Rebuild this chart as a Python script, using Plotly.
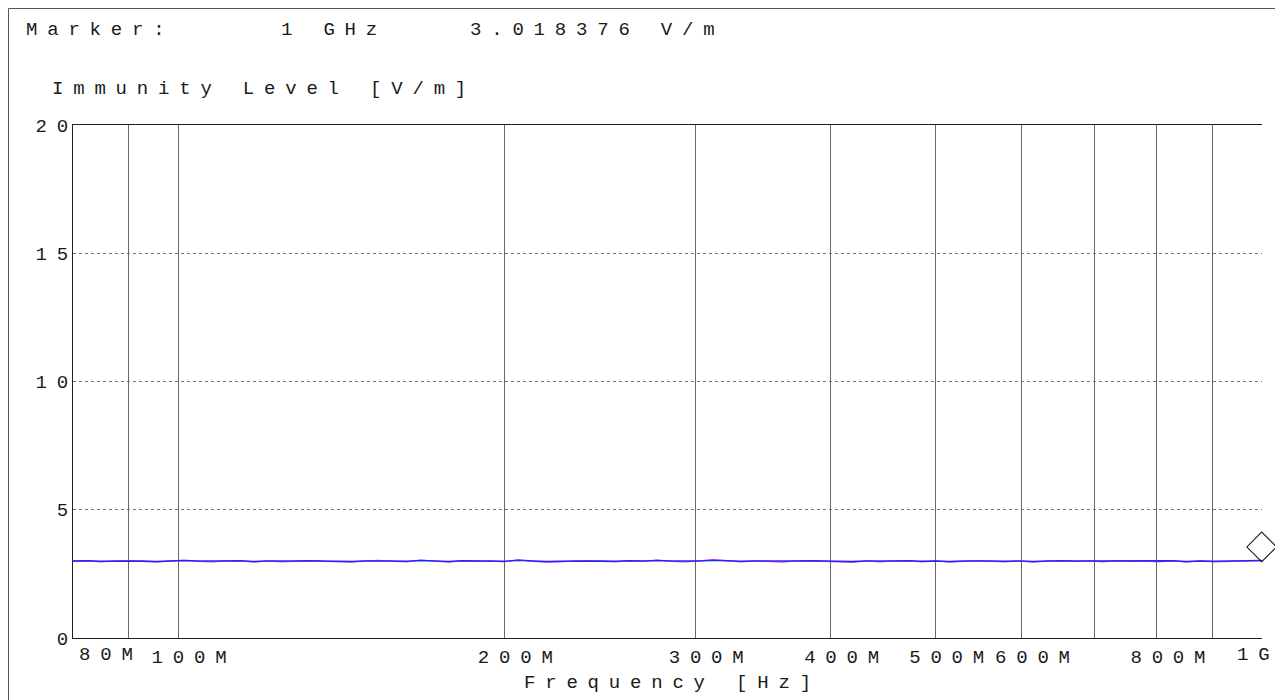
import math
import plotly.graph_objects as go

# ---------------- data ----------------
freq_mhz = [
    80.0, 82.4, 84.9, 87.4, 90.0, 92.7, 95.5, 98.4, 101.3, 104.4,
    107.5, 110.7, 114.0, 117.5, 121.0, 124.6, 128.4, 132.2, 136.2, 140.3,
    144.5, 148.8, 153.3, 157.9, 162.6, 167.5, 172.5, 177.7, 183.0, 188.5,
    194.2, 200.0, 206.0, 212.2, 218.6, 225.1, 231.9, 238.8, 246.0, 253.4,
    261.0, 268.8, 276.8, 285.1, 293.7, 302.5, 311.6, 320.9, 330.5, 340.5,
    350.7, 361.2, 372.0, 383.2, 394.7, 406.5, 418.7, 431.3, 444.2, 457.5,
    471.3, 485.4, 500.0, 515.0, 530.4, 546.3, 562.7, 579.6, 597.0, 614.9,
    633.4, 652.4, 671.9, 692.1, 712.8, 734.2, 756.2, 778.9, 802.3, 826.3,
    851.1, 876.7, 903.0, 930.1, 958.0, 986.7, 1000.0,
]
level_blue = [
    3.00, 3.01, 2.99, 3.00, 3.01, 3.00, 2.98, 3.00, 3.02, 3.00,
    2.99, 3.00, 3.01, 2.98, 3.00, 2.99, 3.00, 3.01, 3.00, 2.99,
    2.98, 3.00, 3.01, 3.00, 2.99, 3.02, 3.00, 2.98, 3.01, 3.00,
    3.00, 2.99, 3.03, 3.00, 2.98, 2.99, 3.00, 3.01, 3.00, 2.99,
    3.01, 3.00, 3.02, 3.00, 2.99, 3.00, 3.03, 3.01, 2.99, 3.00,
    3.00, 2.98, 3.00, 3.01, 3.00, 2.99, 2.98, 3.00, 2.99, 3.00,
    3.01, 2.99, 3.00, 2.98, 3.00, 3.01, 3.00, 2.99, 3.00, 2.98,
    3.00, 3.01, 3.00, 3.00, 2.99, 3.01, 3.00, 3.00, 2.99, 3.01,
    2.98, 3.00, 2.99, 3.00, 3.00, 3.01, 3.02,
]
level_magenta = [
    2.99, 3.02, 2.97, 3.01, 3.02, 2.99, 2.96, 3.01, 3.03, 2.99,
    2.97, 3.01, 3.02, 2.96, 3.01, 2.97, 3.01, 3.02, 2.99, 2.97,
    2.96, 3.01, 3.03, 2.99, 2.97, 3.04, 2.99, 2.96, 3.02, 2.99,
    3.01, 2.97, 3.05, 2.99, 2.96, 2.97, 3.01, 3.02, 2.99, 2.97,
    3.02, 2.99, 3.04, 2.99, 2.97, 3.01, 3.05, 3.02, 2.97, 3.01,
    2.99, 2.96, 3.01, 3.02, 2.99, 2.97, 2.95, 3.01, 2.97, 3.01,
    3.02, 2.97, 3.01, 2.96, 2.99, 3.02, 2.99, 2.97, 3.01, 2.96,
    3.01, 3.02, 2.99, 3.01, 2.97, 3.02, 2.99, 3.01, 2.97, 3.02,
    2.96, 3.01, 2.97, 2.99, 3.01, 3.02, 3.02,
]
marker_freq_hz = 1e9
marker_level = 3.018376

grid_freq_mhz = [80, 90, 100, 200, 300, 400, 500, 600, 700, 800, 900, 1000]
tick_freq_mhz = [100, 200, 300, 400, 500, 600, 800]
tick_text = ["100M", "200M", "300M", "400M", "500M", "600M", "800M"]
edge_tick_freq_mhz = [80, 1000]
edge_tick_text = ["80M", "1G"]
y_ticks = [0, 5, 10, 15, 20]
y_tick_text = ["0", "5", "10", "15", "20"]

x_title = "Frequency [Hz]"
y_title = "Immunity Level [V/m]"
marker_label = "Marker:"

# ---------------- styling ----------------
OFF = 8                      # page body margin
W, H = 1283 - OFF, 700 - OFF
# plot area in window pixels
L, R, T, B = 73, 1262, 125, 638
FONT = "Liberation Mono"
FS = 19
LS = 9.8
TXT = "#1a1a1a"


def spaced(s):
    if len(s) <= 1:
        return s
    return f'<span style="letter-spacing:{LS}px">{s[:-1]}</span>{s[-1]}'


def px(x):
    return (x - L) / (R - L)


def py(y):
    return (B - y) / (B - T)


freq_hz = [f * 1e6 for f in freq_mhz]

fig = go.Figure()
fig.add_trace(go.Scatter(x=freq_hz, y=level_magenta, mode="lines",
                         line=dict(color="#ff33cc", width=1.2), hoverinfo="skip"))
fig.add_trace(go.Scatter(x=freq_hz, y=level_blue, mode="lines",
                         line=dict(color="#2222ff", width=1.4), hoverinfo="skip"))

grid_vals = [g * 1e6 for g in grid_freq_mhz]
label_map = {t * 1e6: s for t, s in zip(tick_freq_mhz, tick_text)}
fig.update_xaxes(
    type="log",
    range=[math.log10(freq_mhz[0] * 1e6), math.log10(freq_mhz[-1] * 1e6)],
    tickmode="array",
    tickvals=grid_vals,
    ticktext=[spaced(label_map.get(v, "")) for v in grid_vals],
    showgrid=True, gridcolor="#666666", gridwidth=1,
    showline=True, linecolor="#222222", linewidth=1, mirror=True,
    ticks="", ticklabelshift=11, ticklabelstandoff=1,
    tickfont=dict(family=FONT, size=FS, color=TXT),
    zeroline=False,
)
fig.update_yaxes(
    range=[0, 20],
    tickmode="array", tickvals=y_ticks,
    ticktext=[spaced(s) for s in y_tick_text],
    showgrid=True, gridcolor="#777777", gridwidth=1, griddash="dot",
    showline=True, linecolor="#222222", linewidth=1,
    ticks="", ticklabelstandoff=0,
    tickfont=dict(family=FONT, size=FS, color=TXT),
    zeroline=False,
)

annots = []
def ann(text, x, y, xanchor="left"):
    annots.append(dict(text=spaced(text), x=x, y=y, xref="paper", yref="paper",
                       xanchor=xanchor, yanchor="middle", showarrow=False,
                       font=dict(family=FONT, size=FS, color=TXT)))

ann(marker_label, px(24), py(30))
ann(f"{marker_freq_hz / 1e9:g} GHz", px(279), py(30))
ann(f"{marker_level:.6f} V/m", px(468), py(30))
ann(y_title, px(50), py(89))
ann(x_title, 0.5, py(683), "center")
ann(edge_tick_text[0], px(77), py(655), "left")
ann(edge_tick_text[1], px(1272), py(655), "right")

# marker diamond sitting on the trace at the marker frequency
annots.append(dict(text=" ", x=math.log10(marker_freq_hz), y=marker_level,
                   xref="x", yref="y", showarrow=False, width=20, height=20,
                   borderpad=0, bordercolor="#111111", borderwidth=1,
                   textangle=45, yshift=14, bgcolor="rgba(0,0,0,0)"))

fig.update_layout(
    width=W, height=H,
    margin=dict(l=L - OFF, r=(W + OFF) - R, t=T - OFF, b=(H + OFF) - B, pad=0),
    paper_bgcolor="white", plot_bgcolor="white",
    showlegend=False,
    annotations=annots,
    shapes=[dict(type="rect", xref="paper", yref="paper",
                 x0=px(OFF + 0.5), y0=py(OFF + 0.5), x1=px(1320), y1=py(740),
                 line=dict(color="#555555", width=1), layer="below")],
)

fig.write_html("out.html")
